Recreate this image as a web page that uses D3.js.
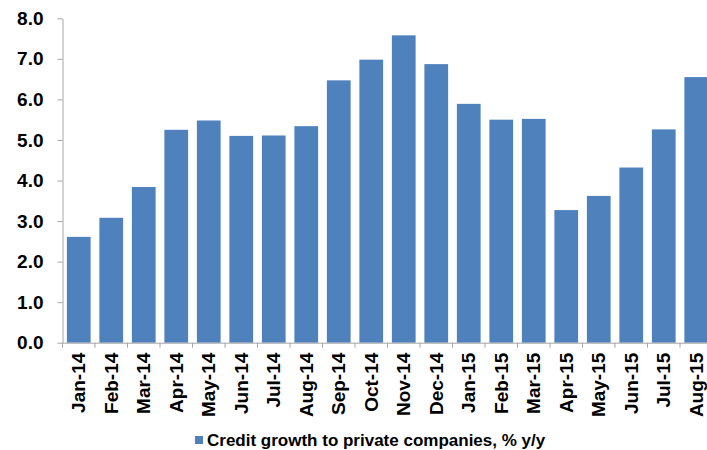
<!DOCTYPE html>
<html lang="en">
<head>
<meta charset="utf-8">
<title>Credit growth</title>
<script src="https://cdn.jsdelivr.net/npm/d3@7"></script>
<style>
  body { margin: 0; background: #fff; }
  svg { display: block; font-family: "Liberation Sans", Arial, sans-serif; font-weight: bold; }
</style>
</head>
<body>
<script>
// data
var months = ["Jan-14", "Feb-14", "Mar-14", "Apr-14", "May-14", "Jun-14", "Jul-14", "Aug-14", "Sep-14", "Oct-14",
              "Nov-14", "Dec-14", "Jan-15", "Feb-15", "Mar-15", "Apr-15", "May-15", "Jun-15", "Jul-15", "Aug-15"];
var growth = [2.61, 3.08, 3.84, 5.25, 5.48, 5.10, 5.11, 5.34, 6.47, 6.98,
              7.58, 6.87, 5.89, 5.50, 5.52, 3.27, 3.62, 4.32, 5.26, 6.55];
var yTicks = [0, 1, 2, 3, 4, 5, 6, 7, 8];
var seriesName = "Credit growth to private companies, % y/y";

var width = 707, height = 450;
var axisColor = "#a6a6a6", barColor = "#4f81bd";

var svg = d3.select("body").append("svg")
    .attr("width", width)
    .attr("height", height);

var x = d3.scaleBand()
    .domain(months)
    .range([62.5, 712.5])
    .paddingInner(0.27)
    .paddingOuter(0.135);

var y = d3.scaleLinear()
    .domain([0, 8])
    .range([342.7, 18.3]);

// bars
svg.selectAll("rect.bar")
    .data(growth)
    .enter()
    .append("rect")
    .attr("class", "bar")
    .attr("x", function(d, i) { return x(months[i]); })
    .attr("y", function(d) { return y(d); })
    .attr("width", x.bandwidth())
    .attr("height", function(d) { return y(0) - y(d); })
    .attr("fill", barColor);

// y axis
var yAxis = svg.append("g")
    .attr("transform", "translate(" + x.range()[0] + ",0)")
    .call(d3.axisLeft(y).tickValues(yTicks).tickFormat(d3.format(".1f"))
        .tickSize(5).tickSizeOuter(0).tickPadding(14));
yAxis.selectAll("line, path").attr("stroke", axisColor);
yAxis.selectAll("text")
    .attr("fill", "#000")
    .style("font-size", "19px")
    .style("font-weight", "bold")
    .style("font-family", "'Liberation Sans', Arial, sans-serif");

// x axis
var xAxis = svg.append("g")
    .attr("transform", "translate(0," + y(0) + ")")
    .call(d3.axisBottom(x).tickSize(0).tickSizeOuter(0).tickPadding(10));
xAxis.select("path").attr("stroke", axisColor);
xAxis.selectAll("text")
    .attr("fill", "#000")
    .attr("transform", "rotate(-90)")
    .attr("text-anchor", "end")
    .attr("x", -10)
    .attr("y", 0)
    .attr("dy", "0.35em")
    .style("font-size", "19px")
    .style("font-weight", "bold")
    .style("font-family", "'Liberation Sans', Arial, sans-serif");

// tick marks between categories
var gap = (x.step() - x.bandwidth()) / 2;
xAxis.selectAll("line.sep")
    .data(months)
    .enter()
    .append("line")
    .attr("class", "sep")
    .attr("x1", function(d) { return x(d) - gap; })
    .attr("x2", function(d) { return x(d) - gap; })
    .attr("y1", 0)
    .attr("y2", 5)
    .attr("stroke", axisColor);

// legend
var legend = svg.append("g").attr("transform", "translate(195,436)");
legend.append("rect")
    .attr("width", 8)
    .attr("height", 8)
    .attr("fill", barColor);
legend.append("text")
    .attr("x", 12)
    .attr("y", 10)
    .style("font-size", "17px")
    .text(seriesName);
</script>
</body>
</html>
